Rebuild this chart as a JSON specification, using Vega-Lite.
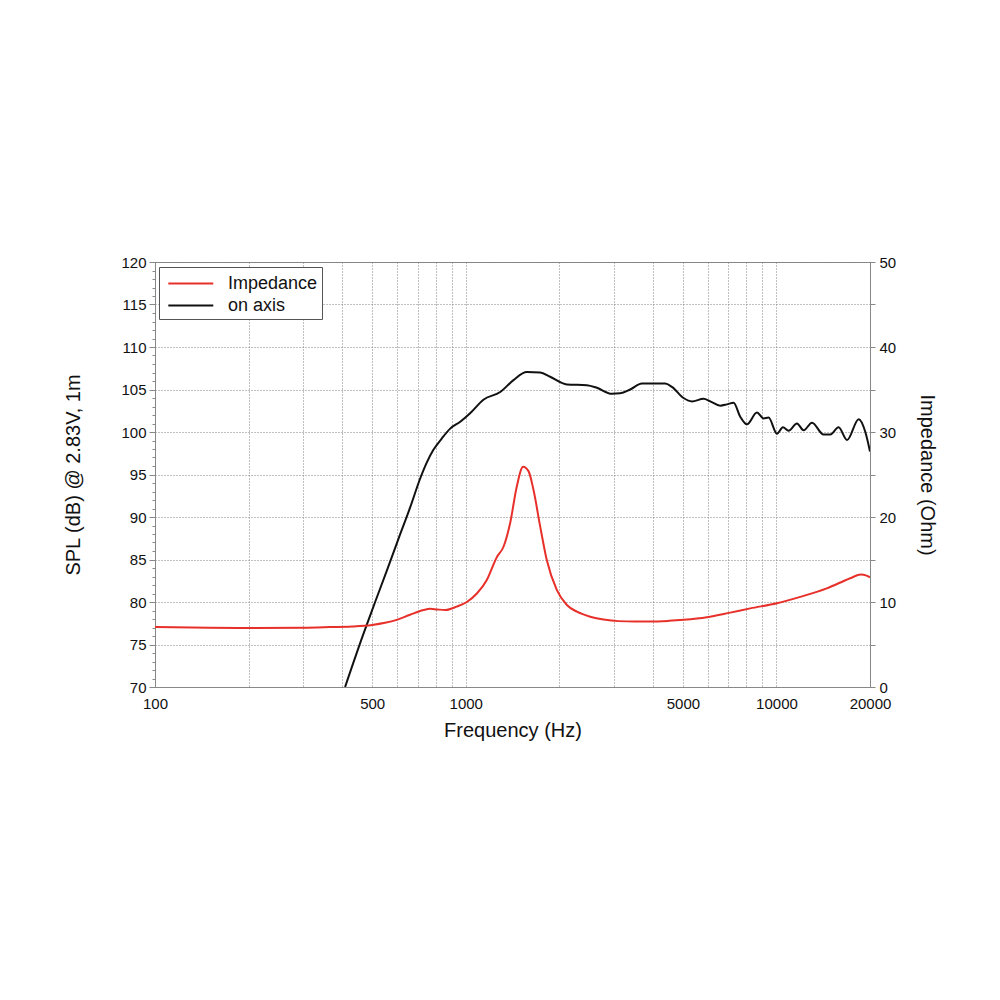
{
  "$schema": "https://vega.github.io/schema/vega-lite/v6.json",
  "autosize": {"type": "none"},
  "width": 715,
  "height": 425,
  "padding": {"left": 155, "top": 262, "right": 130, "bottom": 313},
  "background": "white",
  "config": {
    "font": "Liberation Sans",
    "view": {"stroke": "#888888", "strokeWidth": 1},
    "axis": {
      "labelFont": "Liberation Sans",
      "titleFont": "Liberation Sans",
      "labelFontSize": 15,
      "titleFontSize": 20,
      "titleFontWeight": "normal",
      "labelColor": "#111111",
      "titleColor": "#111111",
      "domainColor": "#888888",
      "tickColor": "#888888",
      "gridColor": "#808080",
      "gridDash": [1, 2],
      "gridWidth": 1
    },
    "legend": {
      "labelFont": "Liberation Sans",
      "labelFontSize": 18,
      "labelColor": "#111111"
    }
  },
  "datasets": {
    "spl": [
      {"f": 409, "v": 70.0, "s": "on axis"},
      {"f": 467, "v": 76.1, "s": "on axis"},
      {"f": 511, "v": 80.0, "s": "on axis"},
      {"f": 560, "v": 83.9, "s": "on axis"},
      {"f": 607, "v": 87.4, "s": "on axis"},
      {"f": 662, "v": 91.1, "s": "on axis"},
      {"f": 713, "v": 94.5, "s": "on axis"},
      {"f": 749, "v": 96.4, "s": "on axis"},
      {"f": 787, "v": 97.9, "s": "on axis"},
      {"f": 838, "v": 99.25, "s": "on axis"},
      {"f": 891, "v": 100.4, "s": "on axis"},
      {"f": 960, "v": 101.2, "s": "on axis"},
      {"f": 1033, "v": 102.2, "s": "on axis"},
      {"f": 1140, "v": 103.8, "s": "on axis"},
      {"f": 1291, "v": 104.7, "s": "on axis"},
      {"f": 1424, "v": 106.1, "s": "on axis"},
      {"f": 1573, "v": 107.05, "s": "on axis"},
      {"f": 1736, "v": 107.0, "s": "on axis"},
      {"f": 1869, "v": 106.5, "s": "on axis"},
      {"f": 2116, "v": 105.6, "s": "on axis"},
      {"f": 2454, "v": 105.5, "s": "on axis"},
      {"f": 2643, "v": 105.2, "s": "on axis"},
      {"f": 2950, "v": 104.5, "s": "on axis"},
      {"f": 3141, "v": 104.55, "s": "on axis"},
      {"f": 3383, "v": 105.0, "s": "on axis"},
      {"f": 3689, "v": 105.7, "s": "on axis"},
      {"f": 4021, "v": 105.7, "s": "on axis"},
      {"f": 4385, "v": 105.7, "s": "on axis"},
      {"f": 4608, "v": 105.3, "s": "on axis"},
      {"f": 5023, "v": 104.0, "s": "on axis"},
      {"f": 5346, "v": 103.6, "s": "on axis"},
      {"f": 5826, "v": 103.9, "s": "on axis"},
      {"f": 6124, "v": 103.6, "s": "on axis"},
      {"f": 6594, "v": 103.1, "s": "on axis"},
      {"f": 6927, "v": 103.25, "s": "on axis"},
      {"f": 7278, "v": 103.45, "s": "on axis"},
      {"f": 7647, "v": 101.8, "s": "on axis"},
      {"f": 8035, "v": 100.9, "s": "on axis"},
      {"f": 8654, "v": 102.3, "s": "on axis"},
      {"f": 9089, "v": 101.6, "s": "on axis"},
      {"f": 9432, "v": 101.7, "s": "on axis"},
      {"f": 10037, "v": 99.8, "s": "on axis"},
      {"f": 10493, "v": 100.55, "s": "on axis"},
      {"f": 10940, "v": 100.15, "s": "on axis"},
      {"f": 11640, "v": 101.0, "s": "on axis"},
      {"f": 12230, "v": 100.2, "s": "on axis"},
      {"f": 13010, "v": 101.1, "s": "on axis"},
      {"f": 14180, "v": 99.7, "s": "on axis"},
      {"f": 14900, "v": 99.7, "s": "on axis"},
      {"f": 15850, "v": 100.55, "s": "on axis"},
      {"f": 16870, "v": 99.05, "s": "on axis"},
      {"f": 18390, "v": 101.5, "s": "on axis"},
      {"f": 19320, "v": 100.0, "s": "on axis"},
      {"f": 20000, "v": 97.7, "s": "on axis"}
    ],
    "imp": [
      {"f": 100, "v": 7.05, "s": "Impedance"},
      {"f": 150, "v": 6.98, "s": "Impedance"},
      {"f": 200, "v": 6.95, "s": "Impedance"},
      {"f": 300, "v": 6.98, "s": "Impedance"},
      {"f": 366, "v": 7.05, "s": "Impedance"},
      {"f": 430, "v": 7.12, "s": "Impedance"},
      {"f": 500, "v": 7.3, "s": "Impedance"},
      {"f": 550, "v": 7.55, "s": "Impedance"},
      {"f": 600, "v": 7.9, "s": "Impedance"},
      {"f": 662, "v": 8.5, "s": "Impedance"},
      {"f": 731, "v": 9.05, "s": "Impedance"},
      {"f": 768, "v": 9.2, "s": "Impedance"},
      {"f": 810, "v": 9.12, "s": "Impedance"},
      {"f": 860, "v": 9.06, "s": "Impedance"},
      {"f": 935, "v": 9.45, "s": "Impedance"},
      {"f": 1008, "v": 10.0, "s": "Impedance"},
      {"f": 1086, "v": 11.0, "s": "Impedance"},
      {"f": 1169, "v": 12.6, "s": "Impedance"},
      {"f": 1260, "v": 15.3, "s": "Impedance"},
      {"f": 1323, "v": 16.5, "s": "Impedance"},
      {"f": 1390, "v": 19.3, "s": "Impedance"},
      {"f": 1460, "v": 23.6, "s": "Impedance"},
      {"f": 1530, "v": 25.9, "s": "Impedance"},
      {"f": 1592, "v": 25.4, "s": "Impedance"},
      {"f": 1652, "v": 23.2, "s": "Impedance"},
      {"f": 1736, "v": 18.9, "s": "Impedance"},
      {"f": 1824, "v": 14.9, "s": "Impedance"},
      {"f": 1965, "v": 11.4, "s": "Impedance"},
      {"f": 2116, "v": 9.65, "s": "Impedance"},
      {"f": 2279, "v": 8.86, "s": "Impedance"},
      {"f": 2500, "v": 8.3, "s": "Impedance"},
      {"f": 2776, "v": 7.95, "s": "Impedance"},
      {"f": 3100, "v": 7.75, "s": "Impedance"},
      {"f": 3500, "v": 7.7, "s": "Impedance"},
      {"f": 3924, "v": 7.7, "s": "Impedance"},
      {"f": 4500, "v": 7.78, "s": "Impedance"},
      {"f": 5023, "v": 7.9, "s": "Impedance"},
      {"f": 5970, "v": 8.2, "s": "Impedance"},
      {"f": 7100, "v": 8.75, "s": "Impedance"},
      {"f": 8236, "v": 9.25, "s": "Impedance"},
      {"f": 10037, "v": 9.85, "s": "Impedance"},
      {"f": 11930, "v": 10.6, "s": "Impedance"},
      {"f": 14520, "v": 11.6, "s": "Impedance"},
      {"f": 17280, "v": 12.8, "s": "Impedance"},
      {"f": 18700, "v": 13.25, "s": "Impedance"},
      {"f": 19500, "v": 13.1, "s": "Impedance"},
      {"f": 20000, "v": 12.9, "s": "Impedance"}
    ]
  },
  "layer": [
    {
      "data": {"name": "spl"},
      "mark": {"type": "line", "strokeWidth": 2, "interpolate": "monotone", "clip": true},
      "encoding": {
        "x": {
          "field": "f", "type": "quantitative",
          "scale": {"type": "log", "domain": [100, 20000], "nice": false},
          "axis": {
            "title": "Frequency (Hz)",
            "values": [100, 200, 300, 400, 500, 600, 700, 800, 900, 1000, 2000, 3000, 4000, 5000, 6000, 7000, 8000, 9000, 10000, 20000],
            "labelExpr": "indexof([100,500,1000,5000,10000,20000], datum.value) >= 0 ? datum.value : ''",
            "ticks": false,
            "labelPadding": 9,
            "labelFlush": false,
            "titlePadding": 9,
            "grid": true
          }
        },
        "y": {
          "field": "v", "type": "quantitative",
          "scale": {"domain": [70, 120], "nice": false, "zero": false},
          "axis": {
            "orient": "left",
            "title": "SPL (dB) @ 2.83V, 1m",
            "values": [70,71,72,73,74,75,76,77,78,79,80,81,82,83,84,85,86,87,88,89,90,91,92,93,94,95,96,97,98,99,100,101,102,103,104,105,106,107,108,109,110,111,112,113,114,115,116,117,118,119,120],
            "labelExpr": "datum.value % 5 === 0 ? datum.value : ''",
            "tickSize": {"condition": {"test": "datum.value % 5 === 0", "value": 6}, "value": 3},
            "labelPadding": 3,
            "labelFlush": false,
            "titlePadding": 37,
            "grid": true,
            "gridOpacity": {"condition": {"test": "datum.value % 5 === 0", "value": 1}, "value": 0}
          }
        },
        "color": {
          "field": "s", "type": "nominal",
          "scale": {"domain": ["Impedance", "on axis"], "range": ["#e8302a", "#111111"]},
          "legend": {
            "title": null,
            "orient": "none",
            "legendX": 4,
            "legendY": 5,
            "symbolType": "M-0.64,0H3.36",
            "symbolSize": 506,
            "symbolStrokeWidth": 2,
            "labelOffset": 40,
            "labelExpr": "datum.label + '      '",
            "padding": 4,
            "rowPadding": 0,
            "strokeColor": "#555555",
            "fillColor": "white"
          }
        }
      }
    },
    {
      "data": {"name": "imp"},
      "mark": {"type": "line", "strokeWidth": 2, "interpolate": "monotone", "clip": true},
      "encoding": {
        "x": {"field": "f", "type": "quantitative", "scale": {"type": "log", "domain": [100, 20000], "nice": false}},
        "y": {
          "field": "v", "type": "quantitative",
          "scale": {"domain": [0, 50], "nice": false},
          "axis": {
            "orient": "right",
            "title": "Impedance (Ohm)",
            "values": [0, 5, 10, 15, 20, 25, 30, 35, 40, 45, 50],
            "labelExpr": "datum.value % 10 === 0 ? datum.value : ''",
            "tickSize": 5,
            "labelPadding": 4,
            "labelFlush": false,
            "titlePadding": 21,
            "grid": false
          }
        },
        "color": {"field": "s", "type": "nominal"}
      }
    }
  ],
  "resolve": {"scale": {"y": "independent"}}
}
